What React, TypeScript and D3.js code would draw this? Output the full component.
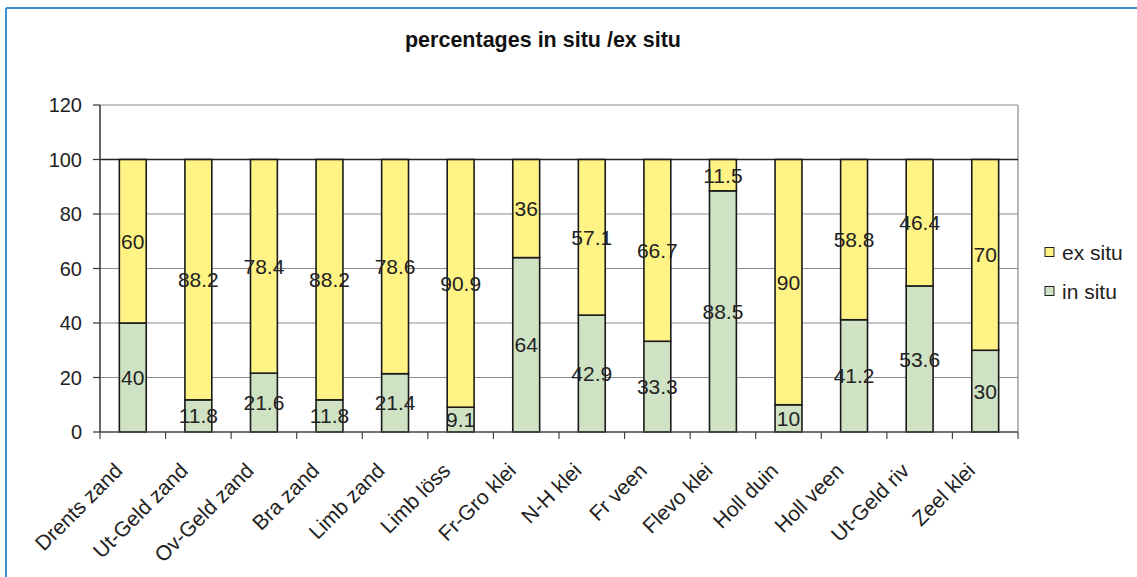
import * as d3 from "d3";

const categories = [
  "Drents zand", "Ut-Geld zand", "Ov-Geld zand", "Bra zand", "Limb zand", "Limb löss", "Fr-Gro klei",
  "N-H klei", "Fr veen", "Flevo klei", "Holl duin", "Holl veen", "Ut-Geld riv", "Zeel klei",
];
const inSitu = [40, 11.8, 21.6, 11.8, 21.4, 9.1, 64, 42.9, 33.3, 88.5, 10, 41.2, 53.6, 30];
const exSitu = [60, 88.2, 78.4, 88.2, 78.6, 90.9, 36, 57.1, 66.7, 11.5, 90, 58.8, 46.4, 70];
const yTicks = [0, 20, 40, 60, 80, 100, 120];

const font = "Arial, 'Liberation Sans', sans-serif";

const App = () => {
  const W = 1137, H = 577;
  const left = 100, right = 1018, top = 105, bottom = 432;

  const x = d3.scaleBand().domain(categories).range([left, right]).paddingInner(0).paddingOuter(0);
  const y = d3.scaleLinear().domain([0, 120]).range([bottom, top]);
  const bw = x.bandwidth() * 0.41;

  const stack = d3.stack<number>().keys(["in", "ex"]).value((i, k) => (k === "in" ? inSitu[i] : exSitu[i]));
  const series = stack(d3.range(categories.length));
  const fills = { in: "#cfe2c3", ex: "#fff385" };
  const labels = { in: inSitu, ex: exSitu };

  return (
    <svg width={W} height={H} style={{ position: "absolute", left: 0, top: 0, fontFamily: font }}>
      <rect x={0} y={0} width={W} height={H} fill="#fff" />
      <line x1={6} x2={6} y1={8} y2={H} stroke="#3a8fd0" strokeWidth={2} />
      <line x1={6} x2={W} y1={8} y2={8} stroke="#3a8fd0" strokeWidth={2} />

      <text x={543} y={47} textAnchor="middle" fontSize={21.5} fontWeight="bold" fill="#111">
        percentages in situ /ex situ
      </text>

      {/* plot frame + grid */}
      <line x1={right} x2={right} y1={top} y2={bottom} stroke="#a0a0a0" strokeWidth={1.5} />
      {yTicks.filter((t) => t > 0).map((t) => (
        <line key={t} x1={left} x2={right} y1={y(t)} y2={y(t)}
          stroke={t === 100 ? "#222" : "#8c8c8c"} strokeWidth={t === 100 ? 1.5 : 1.2} />
      ))}

      {series.map((s) => (
        <g key={s.key}>
          {s.map((d, i) => (
            <rect key={i} x={x(categories[i])! + (x.bandwidth() - bw) / 2} y={y(d[1])}
              width={bw} height={y(d[0]) - y(d[1])}
              fill={fills[s.key as "in" | "ex"]} stroke="#1a1a1a" strokeWidth={1.6} />
          ))}
        </g>
      ))}

      {series.map((s) => (
        <g key={"l" + s.key}>
          {s.map((d, i) => (
            <text key={i} x={x(categories[i])! + x.bandwidth() / 2} y={y((d[0] + d[1]) / 2)}
              dy="0.36em" textAnchor="middle" fontSize={21} fill="#222">
              {labels[s.key as "in" | "ex"][i]}
            </text>
          ))}
        </g>
      ))}

      {/* axes */}
      <line x1={left} x2={left} y1={top} y2={bottom} stroke="#333" strokeWidth={1.5} />
      <line x1={left} x2={right} y1={bottom} y2={bottom} stroke="#444" strokeWidth={1.5} />
      {yTicks.map((t) => (
        <g key={t}>
          <line x1={left - 7} x2={left} y1={y(t)} y2={y(t)} stroke="#333" strokeWidth={1.2} />
          <text x={82} y={y(t)} dy="0.36em" textAnchor="end" fontSize={20} fill="#222">{t}</text>
        </g>
      ))}
      {categories.concat([""]).map((c, i) => {
        const tx = left + i * x.step();
        return <line key={i} x1={tx} x2={tx} y1={bottom} y2={bottom + 7} stroke="#444" strokeWidth={1.2} />;
      })}
      {categories.map((c) => {
        const cx = x(c)! + x.bandwidth() / 2 - 9;
        const cy = bottom + 40;
        return (
          <text key={c} transform={`translate(${cx},${cy}) rotate(-45)`} textAnchor="end"
            fontSize={21} fill="#222">{c}</text>
        );
      })}

      {/* legend */}
      {[["ex situ", fills.ex, 252], ["in situ", fills.in, 291]].map(([name, col, ly]) => (
        <g key={name as string}>
          <rect x={1045} y={(ly as number) - 4.5} width={9} height={9} fill={col as string} stroke="#222" strokeWidth={1} />
          <text x={1062} y={ly as number} dy="0.36em" fontSize={21} fill="#222">{name}</text>
        </g>
      ))}
    </svg>
  );
};

export default App;
